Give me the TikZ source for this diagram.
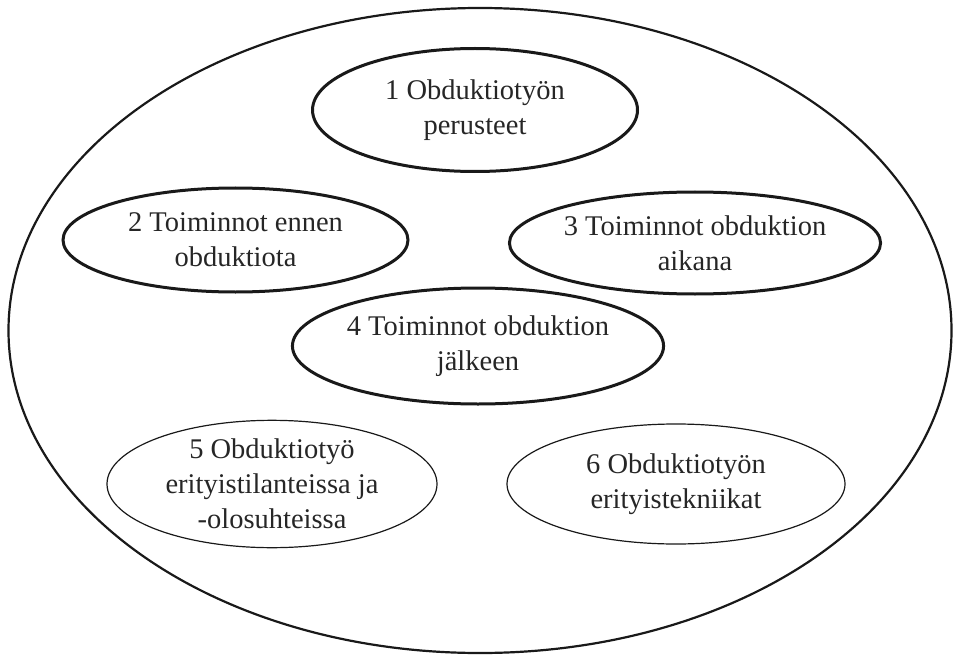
\documentclass[tikz,border=0pt]{standalone}
\usepackage{fontspec}
\setmainfont{Liberation Serif}
\usetikzlibrary{shapes.geometric}
\begin{document}
\begin{tikzpicture}[x=1pt,y=-1pt,
  oval/.style={ellipse, draw=black!90, inner sep=0pt, align=center,
    font=\fontsize{28.5}{35}\selectfont, text=black!85},
  thickoval/.style={oval, line width=3pt},
  thinoval/.style={oval, line width=1.2pt}]
\useasboundingbox (0,0) rectangle (955,655);
\node[ellipse, draw=black!90, line width=2.2pt, minimum width=943pt, minimum height=645pt, inner sep=0pt] (outer) at (480,330.5) {};
\node[thickoval, minimum width=325pt, minimum height=123pt] (e1) at (475,110) {1 Obduktiotyön\\perusteet};
\node[thickoval, minimum width=345pt, minimum height=104pt] (e2) at (235.5,240) {2 Toiminnot ennen\\obduktiota};
\node[thickoval, minimum width=309pt, minimum height=102pt] (e3) at (695,243) {3 Toiminnot obduktion\\aikana};
\node[thickoval, minimum width=336pt, minimum height=116pt] (e4) at (478,346) {4 Toiminnot obduktion\\jälkeen};
\node[thinoval, minimum width=330pt, minimum height=126pt] (e5) at (272,484) {5 Obduktiotyö\\erityistilanteissa ja\\-olosuhteissa};
\node[thinoval, minimum width=338pt, minimum height=120pt] (e6) at (676,484) {6 Obduktiotyön\\erityistekniikat};
\end{tikzpicture}
\end{document}
